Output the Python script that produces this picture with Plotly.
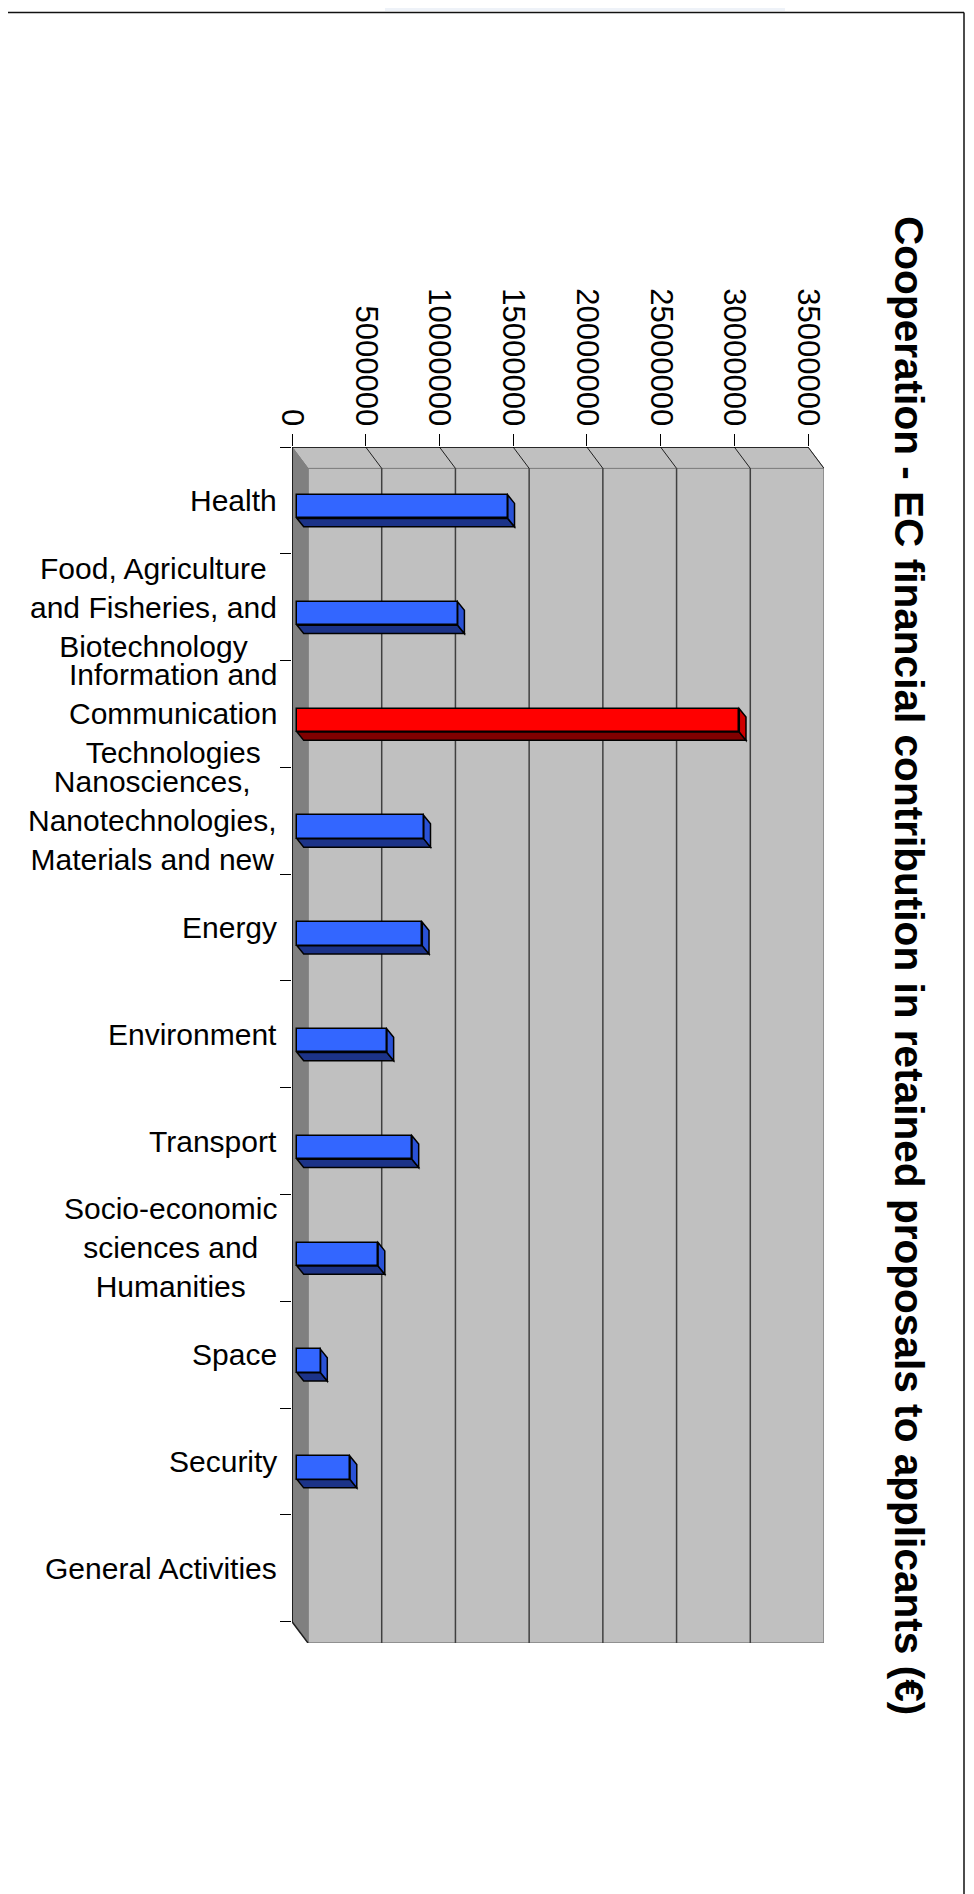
import plotly.graph_objects as go

# ---------------- data ----------------
CATEGORIES = [
    "Health",
    "Food, Agriculture and Fisheries, and Biotechnology",
    "Information and Communication Technologies",
    "Nanosciences, Nanotechnologies, Materials and new",
    "Energy",
    "Environment",
    "Transport",
    "Socio-economic sciences and Humanities",
    "Space",
    "Security",
    "General Activities",
]
CATEGORY_LABELS = [
    "Health",
    "Food, Agriculture<br>and Fisheries, and<br>Biotechnology",
    "Information and<br>Communication<br>Technologies",
    "Nanosciences,<br>Nanotechnologies,<br>Materials and new",
    "Energy",
    "Environment",
    "Transport",
    "Socio-economic<br>sciences and<br>Humanities",
    "Space",
    "Security",
    "General Activities",
]
VALUES = [14.3e6, 10.9e6, 30.0e6, 8.6e6, 8.5e6, 6.1e6, 7.8e6, 5.5e6, 1.6e6, 3.6e6, 0]
HIGHLIGHT = "Information and Communication Technologies"
TICK_VALUES = [0, 5e6, 10e6, 15e6, 20e6, 25e6, 30e6, 35e6]
TICK_TEXT = ["0", "5000000", "10000000", "15000000", "20000000", "25000000", "30000000", "35000000"]
TITLE = "Cooperation - EC financial contribution in retained proposals to applicants (€)"

# ---------------- geometry / style ----------------
W, H = 974, 1894
PAGE_OFF = 8                               # html body margin
L, R, T, B = 292, 824, 447, 1643           # plot area in page pixels
N = len(CATEGORIES)
XMAX = TICK_VALUES[-1]
DEPTH_PX_X = 16                            # 3D wall depth (pixels)
DEPTH_Y = 0.2                              # 3D wall depth (category units)
UX = (R - L - DEPTH_PX_X) / XMAX           # px per value unit
DX = DEPTH_PX_X / UX
PC = (B - T) / (N + DEPTH_Y)               # px per category

BAR_BASE = 5 / UX
BAR_W = 23.4 / PC
BAR_SHIFT = 6.4 / PC
BAR_DDX = 6.7 / UX
BAR_DDY = 8.3 / PC

FONT = "Liberation Sans, Arial, sans-serif"
WALL = "#C0C0C0"
SIDE = "#808080"
EDGE = "#808080"
GRID = "#404040"

Y = list(range(N))
front_cols = ["#FF0000" if c == HIGHLIGHT else "#3366FF" for c in CATEGORIES]
bottom_cols = ["#800000" if c == HIGHLIGHT else "#1C3388" for c in CATEGORIES]
side_cols = ["#D00000" if c == HIGHLIGHT else "#2A52D6" for c in CATEGORIES]
outline_w = [1.5 if v > 0 else 0 for v in VALUES]


def px2paper(px, py):
    """page pixel -> paper coordinates"""
    return (px - L) / (R - L), (B - py) / (B - T)


def poly(pts, fill, line="black", width=1, layer="below"):
    d = "M " + " L ".join(f"{x},{y}" for x, y in pts) + " Z"
    return dict(type="path", path=d, xref="x", yref="y", fillcolor=fill,
                line=dict(color=line, width=width), layer=layer)


def seg(x0, y0, x1, y1, color, width=1, layer="below"):
    return dict(type="line", x0=x0, y0=y0, x1=x1, y1=y1, xref="x", yref="y",
                line=dict(color=color, width=width), layer=layer)


def pline(p0, p1, color, width):
    a = px2paper(*p0)
    b = px2paper(*p1)
    return dict(type="line", xref="paper", yref="paper", x0=a[0], y0=a[1], x1=b[0], y1=b[1],
                line=dict(color=color, width=width), layer="below")


ytop, ybot = -0.5, N - 0.5
shapes = []
# back wall
shapes.append(poly([(DX, ytop + DEPTH_Y), (XMAX + DX, ytop + DEPTH_Y),
                    (XMAX + DX, ybot + DEPTH_Y), (DX, ybot + DEPTH_Y)], WALL, EDGE, 1.5))
# floor (top strip)
shapes.append(poly([(0, ytop), (XMAX, ytop), (XMAX + DX, ytop + DEPTH_Y), (DX, ytop + DEPTH_Y)],
                   WALL, EDGE, 1))
# side wall (left strip)
shapes.append(poly([(0, ytop), (DX, ytop + DEPTH_Y), (DX, ybot + DEPTH_Y), (0, ybot)],
                   SIDE, EDGE, 1))
# gridlines
for v in TICK_VALUES[1:-1]:
    shapes.append(seg(v + DX, ytop + DEPTH_Y, v + DX, ybot + DEPTH_Y, GRID, 1.5))
for v in TICK_VALUES[1:]:
    shapes.append(seg(v, ytop, v + DX, ytop + DEPTH_Y, "#202020", 1))
shapes.append(seg(0, ybot, DX, ybot + DEPTH_Y, "#202020", 1.5))
# 3D faces of the bars
for i, v in enumerate(VALUES):
    if v <= 0:
        continue
    yt = i - BAR_W / 2 + BAR_SHIFT
    yb = i + BAR_W / 2 + BAR_SHIFT
    x0, x1 = BAR_BASE, BAR_BASE + v
    shapes.append(poly([(x0, yb), (x1, yb), (x1 + BAR_DDX, yb + BAR_DDY), (x0 + BAR_DDX, yb + BAR_DDY)],
                       bottom_cols[i], "black", 1.5))
    shapes.append(poly([(x1, yt), (x1 + BAR_DDX, yt + BAR_DDY), (x1 + BAR_DDX, yb + BAR_DDY), (x1, yb)],
                       side_cols[i], "black", 1.5))
# front axis lines
shapes.append(seg(0, ytop, XMAX, ytop, "black", 1.5, "above"))
shapes.append(seg(0, ytop, 0, ybot, "black", 1.5, "above"))

# page border and faint background patches
for (a, b, c, d) in [(385, 0, 785, 11), (967, 1340, 980, 1500), (967, 1510, 980, 1690)]:
    p0 = px2paper(a, b)
    p1 = px2paper(c, d)
    shapes.append(dict(type="rect", xref="paper", yref="paper", x0=p0[0], y0=p1[1], x1=p1[0], y1=p0[1],
                       line=dict(width=0), fillcolor="#EEF2F8", layer="below"))
shapes.append(pline((0, 12.5), (964, 12.5), "#111111", 1.5))
shapes.append(pline((964, 12.5), (964, H + 20), "#111111", 1.5))

fig = go.Figure()
fig.add_trace(go.Bar(
    x=VALUES, y=Y, base=[BAR_BASE] * N, orientation="h",
    width=BAR_W, offset=-BAR_W / 2 + BAR_SHIFT,
    marker=dict(color=front_cols, line=dict(color="black", width=outline_w)),
    showlegend=False, hoverinfo="skip",
))

annotations = []
for i, lab in enumerate(CATEGORY_LABELS):
    annotations.append(dict(
        text=lab, x=px2paper(279, 0)[0], xref="paper", y=i, yref="y",
        xanchor="right", yanchor="middle", align="center", showarrow=False,
        font=dict(family=FONT, size=30, color="black"),
    ))
tx, ty = px2paper(909, 965)
annotations.append(dict(
    text="<b>" + TITLE + "</b>", x=tx, y=ty, xref="paper", yref="paper",
    xanchor="center", yanchor="middle", textangle=90, showarrow=False,
    font=dict(family=FONT, size=40.6, color="black"),
))

fig.update_layout(
    width=W, height=H,
    margin=dict(l=L - PAGE_OFF, r=W - R + PAGE_OFF, t=T - PAGE_OFF, b=H - B + PAGE_OFF, pad=0),
    paper_bgcolor="white", plot_bgcolor="white",
    shapes=shapes, annotations=annotations,
    xaxis=dict(
        side="top", range=[0, XMAX + DX], tickmode="array", tickvals=TICK_VALUES, ticktext=TICK_TEXT,
        tickangle=90, ticks="outside", ticklen=12, tickwidth=1.2, tickcolor="black",
        tickfont=dict(family=FONT, size=31, color="black"), ticklabelstandoff=-3,
        showgrid=False, zeroline=False, showline=False, fixedrange=True,
    ),
    yaxis=dict(
        range=[N - 0.5 + DEPTH_Y, -0.5], tickmode="array", tickvals=[k - 0.5 for k in range(N + 1)],
        showticklabels=False, ticks="outside", ticklen=11, tickwidth=1.2, tickcolor="black",
        showgrid=False, zeroline=False, showline=False, fixedrange=True,
    ),
    bargap=0,
)

fig.write_html("out.html")
